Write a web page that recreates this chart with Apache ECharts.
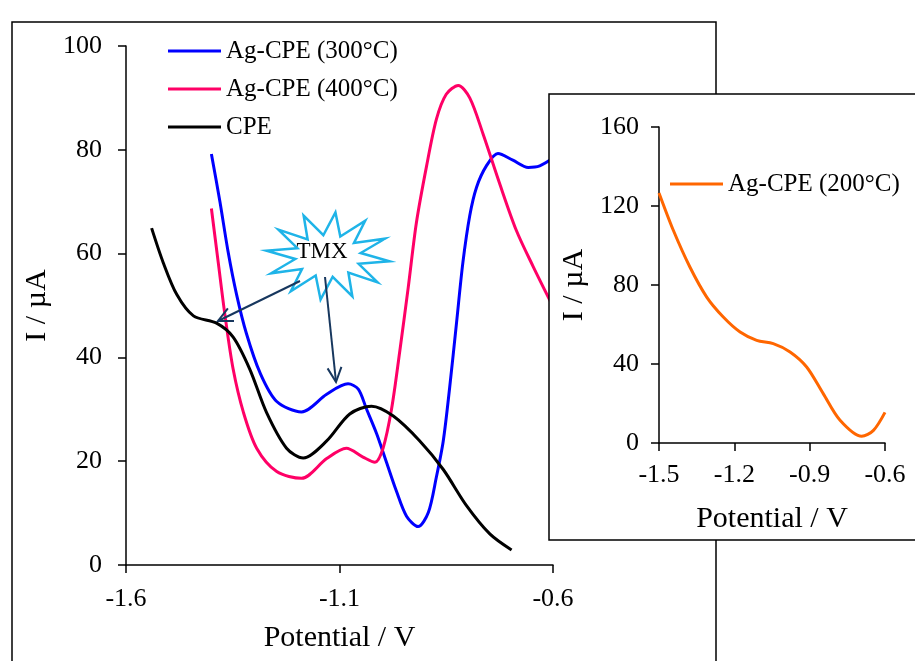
<!DOCTYPE html>
<html>
<head>
<meta charset="utf-8">
<script src="https://cdn.jsdelivr.net/npm/echarts@6/dist/echarts.min.js"></script>
<style>
  html, body { margin: 0; padding: 0; background: #fff; }
  #main { width: 915px; height: 661px; }
</style>
</head>
<body>
<div id="main"></div>
<script>
// main chart: potential (V) vs current (uA)
var ag300V = [-1.400, -1.380, -1.361, -1.341, -1.318, -1.286, -1.247, -1.189, -1.130, -1.080, -1.056, -1.037, -1.013, -0.990, -0.967, -0.943, -0.916, -0.892, -0.873, -0.857, -0.842, -0.826, -0.811, -0.795, -0.779, -0.756, -0.729, -0.694, -0.658, -0.631, -0.600];
var ag300I = [79.2, 70.0, 60.4, 52.1, 44.6, 37.0, 31.5, 29.5, 32.9, 34.9, 33.9, 30.1, 25.3, 19.8, 14.3, 9.4, 7.4, 10.1, 17.0, 23.9, 34.2, 46.6, 58.3, 67.3, 72.8, 76.9, 79.3, 78.0, 76.6, 76.9, 78.4];

var ag400V = [-1.400, -1.384, -1.368, -1.349, -1.325, -1.294, -1.247, -1.189, -1.130, -1.084, -1.045, -1.017, -0.998, -0.978, -0.959, -0.939, -0.920, -0.896, -0.873, -0.850, -0.822, -0.795, -0.764, -0.725, -0.686, -0.647, -0.600];
var ag400I = [68.7, 58.3, 48.0, 37.7, 29.4, 22.5, 18.0, 16.7, 20.5, 22.5, 20.8, 19.8, 22.5, 30.1, 41.1, 53.5, 65.9, 76.9, 85.9, 90.7, 92.4, 90.0, 83.1, 73.5, 64.5, 57.6, 49.8];

var cpeV = [-1.540, -1.513, -1.481, -1.442, -1.388, -1.349, -1.310, -1.271, -1.224, -1.185, -1.130, -1.076, -1.025, -0.974, -0.912, -0.857, -0.803, -0.748, -0.697];
var cpeI = [64.9, 58.3, 52.1, 48.0, 46.6, 43.9, 37.7, 29.4, 22.5, 20.6, 23.9, 29.1, 30.6, 28.7, 23.9, 18.4, 11.5, 6.0, 2.9];

// inset chart
var ag200V = [-1.500, -1.443, -1.377, -1.310, -1.244, -1.177, -1.111, -1.045, -0.978, -0.912, -0.846, -0.779, -0.693, -0.646, -0.600];
var ag200I = [126.6, 107.7, 89.1, 73.9, 63.8, 56.2, 52.0, 50.3, 46.1, 38.5, 25.0, 11.5, 3.4, 6.4, 15.5];

var mainXTicks = [-1.6, -1.1, -0.6];
var names = ['Ag-CPE (300°C)', 'Ag-CPE (400°C)', 'CPE', 'Ag-CPE (200°C)'];

var FONT = '"Liberation Serif", "Times New Roman", serif';

function zip(xs, ys) {
  return xs.map(function (x, i) { return [x, ys[i]]; });
}

// starburst outline for the TMX callout
function starPoints(cx, cy, n, rxo, ryo, rxi, ryi, rot) {
  var pts = [];
  for (var i = 0; i < n * 2; i++) {
    var a = rot + Math.PI * i / n;
    var o = i % 2 === 0;
    pts.push([cx + Math.cos(a) * (o ? rxo : rxi), cy + Math.sin(a) * (o ? ryo : ryi)]);
  }
  return pts;
}

function arrowHead(x1, y1, x2, y2, len, ang) {
  var a = Math.atan2(y2 - y1, x2 - x1);
  return [
    [x2 - len * Math.cos(a - ang), y2 - len * Math.sin(a - ang)],
    [x2, y2],
    [x2 - len * Math.cos(a + ang), y2 - len * Math.sin(a + ang)]
  ];
}

var axisLine = { lineStyle: { color: '#000', width: 1.5 } };
var axisTick = { length: 8, lineStyle: { color: '#000', width: 1.5 } };
var labelStyle = { color: '#000', fontFamily: FONT, fontSize: 26 };
var nameStyle = { color: '#000', fontFamily: FONT, fontSize: 30 };

var navy = '#17375e';
var a1 = [300, 281, 218, 321];
var a2 = [325, 277, 336, 382];

function lineSeries(name, xi, data, color) {
  return {
    name: name, type: 'line', xAxisIndex: xi, yAxisIndex: xi, data: data,
    smooth: 0.3, symbol: 'none', color: color,
    lineStyle: { width: 3 }, z: xi ? 10 : 2
  };
}

var chart = echarts.init(document.getElementById('main'));
chart.setOption({
  backgroundColor: '#fff',
  animation: false,
  grid: [
    { left: 126, right: 362, top: 46, bottom: 96 },
    { left: 659, right: 30, top: 127, bottom: 218 }
  ],
  legend: [
    {
      data: names.slice(0, 3),
      orient: 'vertical', left: 163, top: 33,
      itemWidth: 53, itemHeight: 14, itemGap: 12,
      textStyle: { color: '#000', fontFamily: FONT, fontSize: 25, lineHeight: 26 },
      icon: 'path://M0,6 L53,6 L53,9 L0,9 Z'
    },
    {
      data: [names[3]],
      left: 665, top: 166, z: 10,
      itemWidth: 53, itemHeight: 14,
      textStyle: { color: '#000', fontFamily: FONT, fontSize: 25, lineHeight: 26 },
      icon: 'path://M0,6 L53,6 L53,9 L0,9 Z'
    }
  ],
  xAxis: [
    {
      type: 'value', gridIndex: 0, min: -1.6, max: -0.6,
      axisLine: axisLine,
      axisTick: { length: 8, lineStyle: axisTick.lineStyle, customValues: mainXTicks },
      axisLabel: Object.assign({ margin: 21, customValues: mainXTicks, formatter: function (v) { return v.toFixed(1); } }, labelStyle),
      splitLine: { show: false },
      name: 'Potential / V', nameLocation: 'middle', nameGap: 58, nameTextStyle: nameStyle
    },
    {
      type: 'value', gridIndex: 1, min: -1.5, max: -0.6, interval: 0.3, z: 10,
      axisLine: axisLine, axisTick: axisTick,
      axisLabel: Object.assign({ margin: 19, formatter: function (v) { return v.toFixed(1); } }, labelStyle),
      splitLine: { show: false },
      name: 'Potential / V', nameLocation: 'middle', nameGap: 61, nameTextStyle: nameStyle
    }
  ],
  yAxis: [
    {
      type: 'value', gridIndex: 0, min: 0, max: 100, interval: 20,
      axisLine: axisLine, axisTick: axisTick,
      axisLabel: Object.assign({ margin: 24 }, labelStyle),
      splitLine: { show: false },
      name: 'I / µA', nameLocation: 'middle', nameGap: 74, nameTextStyle: nameStyle
    },
    {
      type: 'value', gridIndex: 1, min: 0, max: 160, interval: 40, z: 10,
      axisLine: axisLine, axisTick: axisTick,
      axisLabel: Object.assign({ margin: 20 }, labelStyle),
      splitLine: { show: false },
      name: 'I / µA', nameLocation: 'middle', nameGap: 70, nameTextStyle: nameStyle
    }
  ],
  series: [
    lineSeries(names[0], 0, zip(ag300V, ag300I), '#0000ff'),
    lineSeries(names[1], 0, zip(ag400V, ag400I), '#ff0066'),
    lineSeries(names[2], 0, zip(cpeV, cpeI), '#000000'),
    lineSeries(names[3], 1, zip(ag200V, ag200I), '#ff6600')
  ],
  graphic: [
    // outer frame of the main chart
    { type: 'rect', z: 0, shape: { x: 12, y: 22, width: 704, height: 660 }, style: { fill: 'none', stroke: '#000', lineWidth: 1.5 } },
    // inset box, covers the right end of the main plot
    { type: 'rect', z: 5, shape: { x: 549, y: 94, width: 380, height: 446 }, style: { fill: '#fff', stroke: '#000', lineWidth: 1.5 } },
    // TMX callout
    { type: 'polygon', z: 6, shape: { points: starPoints(328, 256, 12, 62, 44, 33, 21, -Math.PI / 2 + 0.12) }, style: { fill: '#fff', stroke: '#1fb4e8', lineWidth: 2.5 } },
    { type: 'text', z: 7, style: { x: 322, y: 252, text: 'TMX', fill: '#000', font: '23px ' + FONT, align: 'center', verticalAlign: 'middle' } },
    { type: 'line', z: 6, shape: { x1: a1[0], y1: a1[1], x2: a1[2], y2: a1[3] }, style: { stroke: navy, lineWidth: 2 } },
    { type: 'polyline', z: 6, shape: { points: arrowHead(a1[0], a1[1], a1[2], a1[3], 16, 0.45) }, style: { fill: 'none', stroke: navy, lineWidth: 2 } },
    { type: 'line', z: 6, shape: { x1: a2[0], y1: a2[1], x2: a2[2], y2: a2[3] }, style: { stroke: navy, lineWidth: 2 } },
    { type: 'polyline', z: 6, shape: { points: arrowHead(a2[0], a2[1], a2[2], a2[3], 16, 0.45) }, style: { fill: 'none', stroke: navy, lineWidth: 2 } }
  ]
});
</script>
</body>
</html>
